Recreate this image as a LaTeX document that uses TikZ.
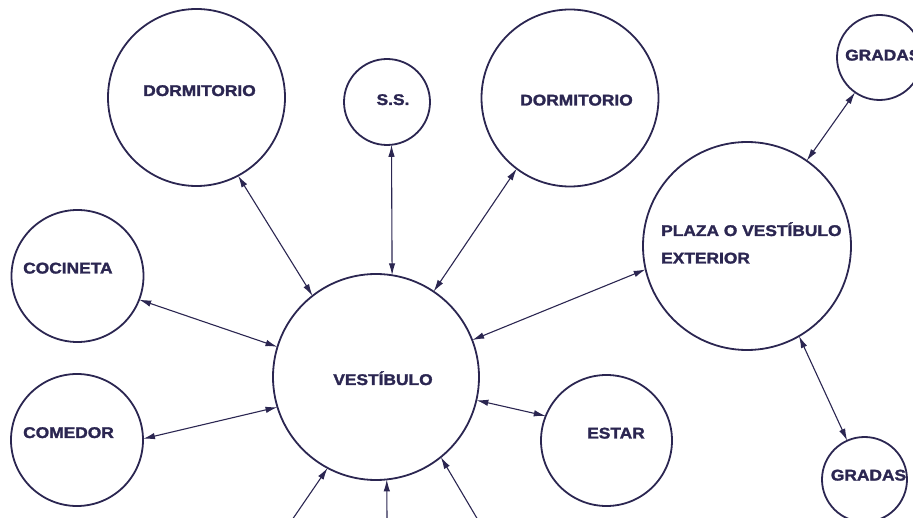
\documentclass[tikz,border=0pt]{standalone}
\usepackage{fontspec}
\usetikzlibrary{arrows.meta}
\newfontfamily\lblfont[FakeStretch=1.12,RawFeature={embolden=1.8}]{Liberation Sans Bold}
\definecolor{ink}{HTML}{2B2651}
\tikzset{
  room/.style={circle,draw=ink,line width=1.8pt,inner sep=0pt,outer sep=0pt,minimum size=#1},
  lbl/.style={font=\lblfont\fontsize{15.5}{18}\selectfont,text=ink,inner sep=0pt},
  link/.style={draw=ink,line width=1.1pt,{Latex[length=12pt,width=6.5pt]}-{Latex[length=12pt,width=6.5pt]}},
  inlink/.style={draw=ink,line width=1.1pt,-{Latex[length=12pt,width=6.5pt]}}
}
\begin{document}
\begin{tikzpicture}[x=1pt,y=-1pt]
\useasboundingbox (0,0) rectangle (913,518);
% circles
\node[room=177pt] (dorml) at (196.5,97.5) {};
\node[room=86pt]  (ss)    at (387,102) {};
\node[room=177pt] (dormr) at (570,98) {};
\node[room=85pt]  (gradt) at (879.5,57.5) {};
\node[room=208pt] (plaza) at (747,246) {};
\node[room=132pt] (coc)   at (77.5,276) {};
\node[room=132pt] (com)   at (77,440) {};
\node[room=206pt] (vest)  at (376,377) {};
\node[room=131pt] (estar) at (606.5,440.5) {};
\node[room=85pt]  (gradb) at (864.5,479.5) {};
% labels
\node[lbl,anchor=base] (tdorml) at (199.5,96) {DORMITORIO};
\node[lbl,anchor=base] (tss) at (393,105) {S.S.};
\node[lbl,anchor=base] (tdormr) at (576.5,105.5) {DORMITORIO};
\node[lbl,anchor=base west] (tcoc) at (23,273.5) {COCINETA};
\node[lbl,anchor=base west] (tcom) at (23,438) {COMEDOR};
\node[lbl,anchor=base] (tvest) at (383,385) {VESTÍBULO};
\node[lbl,anchor=base] (testar) at (616,438.5) {ESTAR};
\node[lbl,anchor=base west] (tgradt) at (845,60.5) {GRADAS};
\node[lbl,anchor=base] (tgradb) at (868.5,480.5) {GRADAS};
\node[lbl,anchor=base west] (tplaza1) at (661,236) {PLAZA O VESTÍBULO};
\node[lbl,anchor=base west] (tplaza2) at (661,263.5) {EXTERIOR};
% connectors
\draw[link] (dorml.-62.9) -- (vest.128.1);
\draw[link] (ss.-84.8) -- (vest.81.8);
\draw[link] (dormr.-127.6) -- (vest.56);
\draw[link] (coc.-21.6) -- (vest.163.3);
\draw[link] (com.1.7) -- (vest.-163.1);
\draw[link] (plaza.-167.3) -- (vest.21.8);
\draw[link] (estar.158.9) -- (vest.-13.4);
\draw[link] (gradt.-125.2) -- (plaza.55.4);
\draw[link] (plaza.-60.5) -- (gradb.114);
% incoming from below
\coordinate (b1) at (292,520);
\coordinate (b2) at (387,520);
\coordinate (b3) at (478,520);
\draw[inlink] (b1) -- (vest.-118.8);
\draw[inlink] (b2) -- (vest.-84);
\draw[inlink] (b3) -- (vest.-51.4);
\end{tikzpicture}
\end{document}
